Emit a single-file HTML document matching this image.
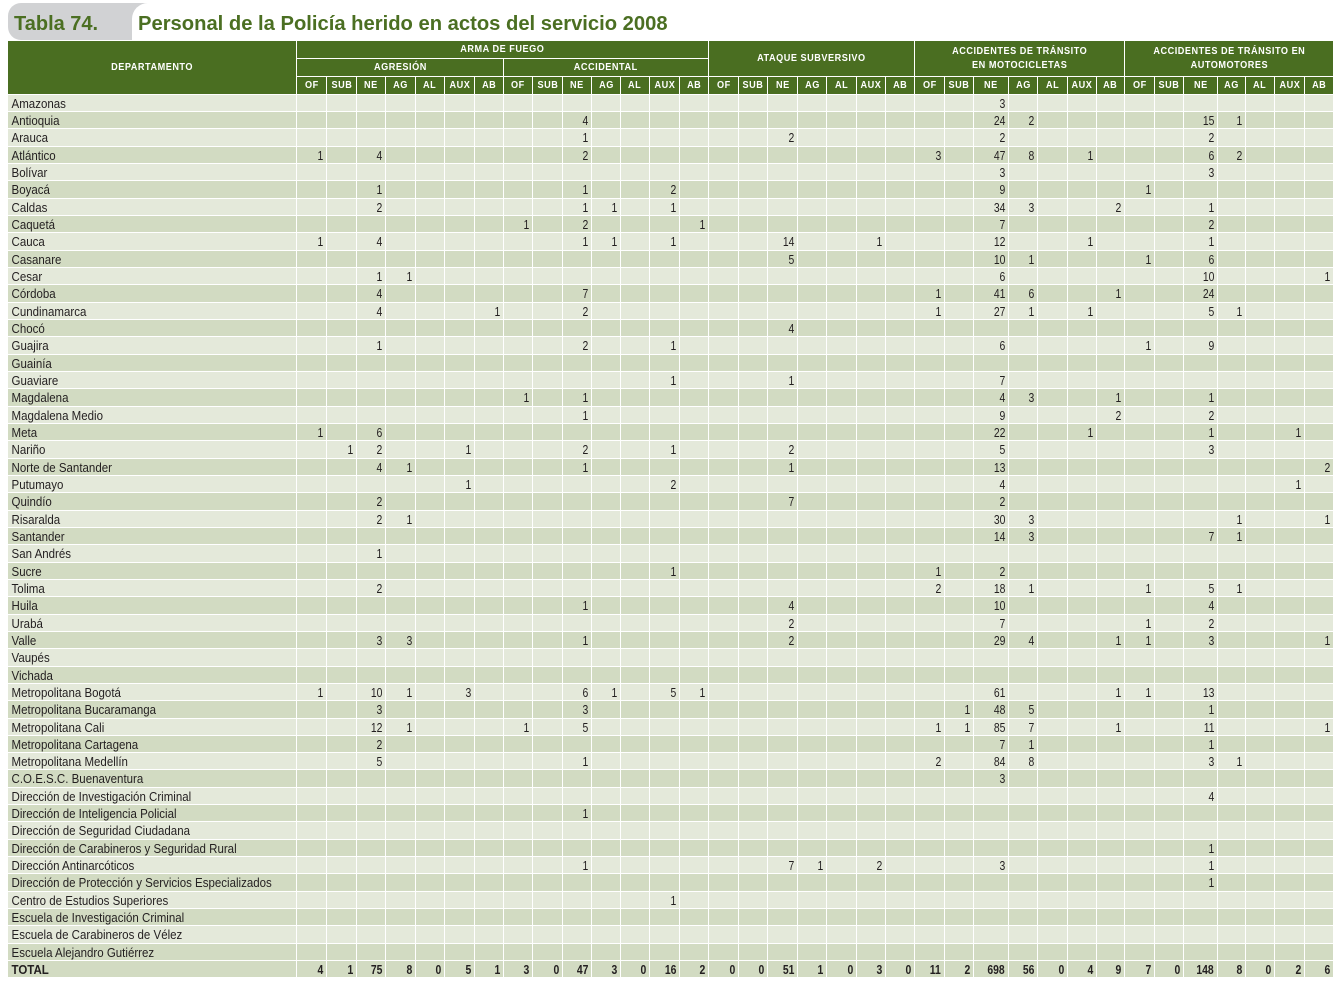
<!DOCTYPE html>
<html><head><meta charset="utf-8">
<style>
*{margin:0;padding:0;box-sizing:border-box}
body{width:1337px;height:982px;background:#fff;position:relative;overflow:hidden;font-family:"Liberation Sans",sans-serif}
.tab{position:absolute;left:8px;top:3px;width:150px;height:37px;background:#d1d2d4;border-radius:13px 0 0 13px}
.wh{position:absolute;left:132px;top:3px;width:620px;height:37px;background:#fff;border-top-left-radius:16px}
.t{position:absolute;top:13.7px;font:bold 20px/20px "Liberation Sans",sans-serif;color:#4b6f22;white-space:nowrap}
#tb{position:absolute;left:8px;top:41px;width:1325px}
.hd{position:relative;height:35.9px;background:#4a6e21;z-index:1}
.hd div{position:absolute;color:#fff;border-left:1px solid #fff;border-bottom:1px solid #fff;display:flex;align-items:center;justify-content:center;text-align:center;font:bold 10.5px/14.5px "Liberation Sans",sans-serif;letter-spacing:.6px}
.hd span{display:inline-block;transform:scaleX(.87);white-space:nowrap}
.r{display:grid;grid-template-columns:288px 30px 30px 29px 30px 29px 30px 29px 29px 30px 29px 29px 29px 30px 29px 30px 29px 30px 29px 30px 29px 29px 30px 29px 35px 29px 30px 29px 28px 30px 29px 34px 28px 29px 30px 29px;height:17.33px;border-bottom:1px solid #fff;background:#e4e9da;font-size:13px;line-height:17.6px;color:#231f20;overflow:hidden}
#rows .r:nth-child(even){background:#d2dbc2}
#rows .r.tot{background:#d2dbc2;font-weight:bold}
.r b{font-weight:inherit;padding-left:4px;white-space:nowrap;transform:scaleX(.885);transform-origin:0 0}
.r i{font-style:normal;border-left:1px solid #fff;text-align:right;padding-right:3px;white-space:nowrap}
.r u{text-decoration:none;display:inline-block;transform:scaleX(.8);transform-origin:100% 50%}
.r.h{background:#4a6e21;color:#fff;font-weight:bold;font-size:10.5px;letter-spacing:.6px;height:17.8px;line-height:16.8px}
.r.h i{text-align:center;padding:0}
.r.h u{transform:scaleX(.87);transform-origin:50% 50%}
</style></head><body>
<div class="tab"></div>
<div class="wh"></div>
<div class="t" style="left:14px">Tabla 74.</div>
<div class="t" style="left:138px;font-size:20.2px">Personal de la Policía herido en actos del servicio 2008</div>
<div id="tb">
<div class="hd">
<div style="left:0;top:0;width:288px;height:52.7px;border:0"><span>DEPARTAMENTO</span></div>
<div style="left:288px;top:0;width:412px;height:17.6px"><span>ARMA DE FUEGO</span></div>
<div style="left:288px;top:17.6px;width:207px;height:18.3px"><span>AGRESIÓN</span></div>
<div style="left:495px;top:17.6px;width:205px;height:18.3px"><span>ACCIDENTAL</span></div>
<div style="left:700px;top:0;width:206px;height:35.9px"><span>ATAQUE SUBVERSIVO</span></div>
<div style="left:906px;top:0;width:210px;height:35.9px"><span>ACCIDENTES DE TRÁNSITO<br>EN MOTOCICLETAS</span></div>
<div style="left:1116px;top:0;width:209px;height:35.9px"><span>ACCIDENTES DE TRÁNSITO EN<br>AUTOMOTORES</span></div>
</div>
<div class="r h"><b></b><i><u>OF</u></i><i><u>SUB</u></i><i><u>NE</u></i><i><u>AG</u></i><i><u>AL</u></i><i><u>AUX</u></i><i><u>AB</u></i><i><u>OF</u></i><i><u>SUB</u></i><i><u>NE</u></i><i><u>AG</u></i><i><u>AL</u></i><i><u>AUX</u></i><i><u>AB</u></i><i><u>OF</u></i><i><u>SUB</u></i><i><u>NE</u></i><i><u>AG</u></i><i><u>AL</u></i><i><u>AUX</u></i><i><u>AB</u></i><i><u>OF</u></i><i><u>SUB</u></i><i><u>NE</u></i><i><u>AG</u></i><i><u>AL</u></i><i><u>AUX</u></i><i><u>AB</u></i><i><u>OF</u></i><i><u>SUB</u></i><i><u>NE</u></i><i><u>AG</u></i><i><u>AL</u></i><i><u>AUX</u></i><i><u>AB</u></i></div>
<div id="rows">
<div class="r"><b>Amazonas</b><i></i><i></i><i></i><i></i><i></i><i></i><i></i><i></i><i></i><i></i><i></i><i></i><i></i><i></i><i></i><i></i><i></i><i></i><i></i><i></i><i></i><i></i><i></i><i><u>3</u></i><i></i><i></i><i></i><i></i><i></i><i></i><i></i><i></i><i></i><i></i><i></i></div>
<div class="r"><b>Antioquia</b><i></i><i></i><i></i><i></i><i></i><i></i><i></i><i></i><i></i><i><u>4</u></i><i></i><i></i><i></i><i></i><i></i><i></i><i></i><i></i><i></i><i></i><i></i><i></i><i></i><i><u>24</u></i><i><u>2</u></i><i></i><i></i><i></i><i></i><i></i><i><u>15</u></i><i><u>1</u></i><i></i><i></i><i></i></div>
<div class="r"><b>Arauca</b><i></i><i></i><i></i><i></i><i></i><i></i><i></i><i></i><i></i><i><u>1</u></i><i></i><i></i><i></i><i></i><i></i><i></i><i><u>2</u></i><i></i><i></i><i></i><i></i><i></i><i></i><i><u>2</u></i><i></i><i></i><i></i><i></i><i></i><i></i><i><u>2</u></i><i></i><i></i><i></i><i></i></div>
<div class="r"><b>Atlántico</b><i><u>1</u></i><i></i><i><u>4</u></i><i></i><i></i><i></i><i></i><i></i><i></i><i><u>2</u></i><i></i><i></i><i></i><i></i><i></i><i></i><i></i><i></i><i></i><i></i><i></i><i><u>3</u></i><i></i><i><u>47</u></i><i><u>8</u></i><i></i><i><u>1</u></i><i></i><i></i><i></i><i><u>6</u></i><i><u>2</u></i><i></i><i></i><i></i></div>
<div class="r"><b>Bolívar</b><i></i><i></i><i></i><i></i><i></i><i></i><i></i><i></i><i></i><i></i><i></i><i></i><i></i><i></i><i></i><i></i><i></i><i></i><i></i><i></i><i></i><i></i><i></i><i><u>3</u></i><i></i><i></i><i></i><i></i><i></i><i></i><i><u>3</u></i><i></i><i></i><i></i><i></i></div>
<div class="r"><b>Boyacá</b><i></i><i></i><i><u>1</u></i><i></i><i></i><i></i><i></i><i></i><i></i><i><u>1</u></i><i></i><i></i><i><u>2</u></i><i></i><i></i><i></i><i></i><i></i><i></i><i></i><i></i><i></i><i></i><i><u>9</u></i><i></i><i></i><i></i><i></i><i><u>1</u></i><i></i><i></i><i></i><i></i><i></i><i></i></div>
<div class="r"><b>Caldas</b><i></i><i></i><i><u>2</u></i><i></i><i></i><i></i><i></i><i></i><i></i><i><u>1</u></i><i><u>1</u></i><i></i><i><u>1</u></i><i></i><i></i><i></i><i></i><i></i><i></i><i></i><i></i><i></i><i></i><i><u>34</u></i><i><u>3</u></i><i></i><i></i><i><u>2</u></i><i></i><i></i><i><u>1</u></i><i></i><i></i><i></i><i></i></div>
<div class="r"><b>Caquetá</b><i></i><i></i><i></i><i></i><i></i><i></i><i></i><i><u>1</u></i><i></i><i><u>2</u></i><i></i><i></i><i></i><i><u>1</u></i><i></i><i></i><i></i><i></i><i></i><i></i><i></i><i></i><i></i><i><u>7</u></i><i></i><i></i><i></i><i></i><i></i><i></i><i><u>2</u></i><i></i><i></i><i></i><i></i></div>
<div class="r"><b>Cauca</b><i><u>1</u></i><i></i><i><u>4</u></i><i></i><i></i><i></i><i></i><i></i><i></i><i><u>1</u></i><i><u>1</u></i><i></i><i><u>1</u></i><i></i><i></i><i></i><i><u>14</u></i><i></i><i></i><i><u>1</u></i><i></i><i></i><i></i><i><u>12</u></i><i></i><i></i><i><u>1</u></i><i></i><i></i><i></i><i><u>1</u></i><i></i><i></i><i></i><i></i></div>
<div class="r"><b>Casanare</b><i></i><i></i><i></i><i></i><i></i><i></i><i></i><i></i><i></i><i></i><i></i><i></i><i></i><i></i><i></i><i></i><i><u>5</u></i><i></i><i></i><i></i><i></i><i></i><i></i><i><u>10</u></i><i><u>1</u></i><i></i><i></i><i></i><i><u>1</u></i><i></i><i><u>6</u></i><i></i><i></i><i></i><i></i></div>
<div class="r"><b>Cesar</b><i></i><i></i><i><u>1</u></i><i><u>1</u></i><i></i><i></i><i></i><i></i><i></i><i></i><i></i><i></i><i></i><i></i><i></i><i></i><i></i><i></i><i></i><i></i><i></i><i></i><i></i><i><u>6</u></i><i></i><i></i><i></i><i></i><i></i><i></i><i><u>10</u></i><i></i><i></i><i></i><i><u>1</u></i></div>
<div class="r"><b>Córdoba</b><i></i><i></i><i><u>4</u></i><i></i><i></i><i></i><i></i><i></i><i></i><i><u>7</u></i><i></i><i></i><i></i><i></i><i></i><i></i><i></i><i></i><i></i><i></i><i></i><i><u>1</u></i><i></i><i><u>41</u></i><i><u>6</u></i><i></i><i></i><i><u>1</u></i><i></i><i></i><i><u>24</u></i><i></i><i></i><i></i><i></i></div>
<div class="r"><b>Cundinamarca</b><i></i><i></i><i><u>4</u></i><i></i><i></i><i></i><i><u>1</u></i><i></i><i></i><i><u>2</u></i><i></i><i></i><i></i><i></i><i></i><i></i><i></i><i></i><i></i><i></i><i></i><i><u>1</u></i><i></i><i><u>27</u></i><i><u>1</u></i><i></i><i><u>1</u></i><i></i><i></i><i></i><i><u>5</u></i><i><u>1</u></i><i></i><i></i><i></i></div>
<div class="r"><b>Chocó</b><i></i><i></i><i></i><i></i><i></i><i></i><i></i><i></i><i></i><i></i><i></i><i></i><i></i><i></i><i></i><i></i><i><u>4</u></i><i></i><i></i><i></i><i></i><i></i><i></i><i></i><i></i><i></i><i></i><i></i><i></i><i></i><i></i><i></i><i></i><i></i><i></i></div>
<div class="r"><b>Guajira</b><i></i><i></i><i><u>1</u></i><i></i><i></i><i></i><i></i><i></i><i></i><i><u>2</u></i><i></i><i></i><i><u>1</u></i><i></i><i></i><i></i><i></i><i></i><i></i><i></i><i></i><i></i><i></i><i><u>6</u></i><i></i><i></i><i></i><i></i><i><u>1</u></i><i></i><i><u>9</u></i><i></i><i></i><i></i><i></i></div>
<div class="r"><b>Guainía</b><i></i><i></i><i></i><i></i><i></i><i></i><i></i><i></i><i></i><i></i><i></i><i></i><i></i><i></i><i></i><i></i><i></i><i></i><i></i><i></i><i></i><i></i><i></i><i></i><i></i><i></i><i></i><i></i><i></i><i></i><i></i><i></i><i></i><i></i><i></i></div>
<div class="r"><b>Guaviare</b><i></i><i></i><i></i><i></i><i></i><i></i><i></i><i></i><i></i><i></i><i></i><i></i><i><u>1</u></i><i></i><i></i><i></i><i><u>1</u></i><i></i><i></i><i></i><i></i><i></i><i></i><i><u>7</u></i><i></i><i></i><i></i><i></i><i></i><i></i><i></i><i></i><i></i><i></i><i></i></div>
<div class="r"><b>Magdalena</b><i></i><i></i><i></i><i></i><i></i><i></i><i></i><i><u>1</u></i><i></i><i><u>1</u></i><i></i><i></i><i></i><i></i><i></i><i></i><i></i><i></i><i></i><i></i><i></i><i></i><i></i><i><u>4</u></i><i><u>3</u></i><i></i><i></i><i><u>1</u></i><i></i><i></i><i><u>1</u></i><i></i><i></i><i></i><i></i></div>
<div class="r"><b>Magdalena Medio</b><i></i><i></i><i></i><i></i><i></i><i></i><i></i><i></i><i></i><i><u>1</u></i><i></i><i></i><i></i><i></i><i></i><i></i><i></i><i></i><i></i><i></i><i></i><i></i><i></i><i><u>9</u></i><i></i><i></i><i></i><i><u>2</u></i><i></i><i></i><i><u>2</u></i><i></i><i></i><i></i><i></i></div>
<div class="r"><b>Meta</b><i><u>1</u></i><i></i><i><u>6</u></i><i></i><i></i><i></i><i></i><i></i><i></i><i></i><i></i><i></i><i></i><i></i><i></i><i></i><i></i><i></i><i></i><i></i><i></i><i></i><i></i><i><u>22</u></i><i></i><i></i><i><u>1</u></i><i></i><i></i><i></i><i><u>1</u></i><i></i><i></i><i><u>1</u></i><i></i></div>
<div class="r"><b>Nariño</b><i></i><i><u>1</u></i><i><u>2</u></i><i></i><i></i><i><u>1</u></i><i></i><i></i><i></i><i><u>2</u></i><i></i><i></i><i><u>1</u></i><i></i><i></i><i></i><i><u>2</u></i><i></i><i></i><i></i><i></i><i></i><i></i><i><u>5</u></i><i></i><i></i><i></i><i></i><i></i><i></i><i><u>3</u></i><i></i><i></i><i></i><i></i></div>
<div class="r"><b>Norte de Santander</b><i></i><i></i><i><u>4</u></i><i><u>1</u></i><i></i><i></i><i></i><i></i><i></i><i><u>1</u></i><i></i><i></i><i></i><i></i><i></i><i></i><i><u>1</u></i><i></i><i></i><i></i><i></i><i></i><i></i><i><u>13</u></i><i></i><i></i><i></i><i></i><i></i><i></i><i></i><i></i><i></i><i></i><i><u>2</u></i></div>
<div class="r"><b>Putumayo</b><i></i><i></i><i></i><i></i><i></i><i><u>1</u></i><i></i><i></i><i></i><i></i><i></i><i></i><i><u>2</u></i><i></i><i></i><i></i><i></i><i></i><i></i><i></i><i></i><i></i><i></i><i><u>4</u></i><i></i><i></i><i></i><i></i><i></i><i></i><i></i><i></i><i></i><i><u>1</u></i><i></i></div>
<div class="r"><b>Quindío</b><i></i><i></i><i><u>2</u></i><i></i><i></i><i></i><i></i><i></i><i></i><i></i><i></i><i></i><i></i><i></i><i></i><i></i><i><u>7</u></i><i></i><i></i><i></i><i></i><i></i><i></i><i><u>2</u></i><i></i><i></i><i></i><i></i><i></i><i></i><i></i><i></i><i></i><i></i><i></i></div>
<div class="r"><b>Risaralda</b><i></i><i></i><i><u>2</u></i><i><u>1</u></i><i></i><i></i><i></i><i></i><i></i><i></i><i></i><i></i><i></i><i></i><i></i><i></i><i></i><i></i><i></i><i></i><i></i><i></i><i></i><i><u>30</u></i><i><u>3</u></i><i></i><i></i><i></i><i></i><i></i><i></i><i><u>1</u></i><i></i><i></i><i><u>1</u></i></div>
<div class="r"><b>Santander</b><i></i><i></i><i></i><i></i><i></i><i></i><i></i><i></i><i></i><i></i><i></i><i></i><i></i><i></i><i></i><i></i><i></i><i></i><i></i><i></i><i></i><i></i><i></i><i><u>14</u></i><i><u>3</u></i><i></i><i></i><i></i><i></i><i></i><i><u>7</u></i><i><u>1</u></i><i></i><i></i><i></i></div>
<div class="r"><b>San Andrés</b><i></i><i></i><i><u>1</u></i><i></i><i></i><i></i><i></i><i></i><i></i><i></i><i></i><i></i><i></i><i></i><i></i><i></i><i></i><i></i><i></i><i></i><i></i><i></i><i></i><i></i><i></i><i></i><i></i><i></i><i></i><i></i><i></i><i></i><i></i><i></i><i></i></div>
<div class="r"><b>Sucre</b><i></i><i></i><i></i><i></i><i></i><i></i><i></i><i></i><i></i><i></i><i></i><i></i><i><u>1</u></i><i></i><i></i><i></i><i></i><i></i><i></i><i></i><i></i><i><u>1</u></i><i></i><i><u>2</u></i><i></i><i></i><i></i><i></i><i></i><i></i><i></i><i></i><i></i><i></i><i></i></div>
<div class="r"><b>Tolima</b><i></i><i></i><i><u>2</u></i><i></i><i></i><i></i><i></i><i></i><i></i><i></i><i></i><i></i><i></i><i></i><i></i><i></i><i></i><i></i><i></i><i></i><i></i><i><u>2</u></i><i></i><i><u>18</u></i><i><u>1</u></i><i></i><i></i><i></i><i><u>1</u></i><i></i><i><u>5</u></i><i><u>1</u></i><i></i><i></i><i></i></div>
<div class="r"><b>Huila</b><i></i><i></i><i></i><i></i><i></i><i></i><i></i><i></i><i></i><i><u>1</u></i><i></i><i></i><i></i><i></i><i></i><i></i><i><u>4</u></i><i></i><i></i><i></i><i></i><i></i><i></i><i><u>10</u></i><i></i><i></i><i></i><i></i><i></i><i></i><i><u>4</u></i><i></i><i></i><i></i><i></i></div>
<div class="r"><b>Urabá</b><i></i><i></i><i></i><i></i><i></i><i></i><i></i><i></i><i></i><i></i><i></i><i></i><i></i><i></i><i></i><i></i><i><u>2</u></i><i></i><i></i><i></i><i></i><i></i><i></i><i><u>7</u></i><i></i><i></i><i></i><i></i><i><u>1</u></i><i></i><i><u>2</u></i><i></i><i></i><i></i><i></i></div>
<div class="r"><b>Valle</b><i></i><i></i><i><u>3</u></i><i><u>3</u></i><i></i><i></i><i></i><i></i><i></i><i><u>1</u></i><i></i><i></i><i></i><i></i><i></i><i></i><i><u>2</u></i><i></i><i></i><i></i><i></i><i></i><i></i><i><u>29</u></i><i><u>4</u></i><i></i><i></i><i><u>1</u></i><i><u>1</u></i><i></i><i><u>3</u></i><i></i><i></i><i></i><i><u>1</u></i></div>
<div class="r"><b>Vaupés</b><i></i><i></i><i></i><i></i><i></i><i></i><i></i><i></i><i></i><i></i><i></i><i></i><i></i><i></i><i></i><i></i><i></i><i></i><i></i><i></i><i></i><i></i><i></i><i></i><i></i><i></i><i></i><i></i><i></i><i></i><i></i><i></i><i></i><i></i><i></i></div>
<div class="r"><b>Vichada</b><i></i><i></i><i></i><i></i><i></i><i></i><i></i><i></i><i></i><i></i><i></i><i></i><i></i><i></i><i></i><i></i><i></i><i></i><i></i><i></i><i></i><i></i><i></i><i></i><i></i><i></i><i></i><i></i><i></i><i></i><i></i><i></i><i></i><i></i><i></i></div>
<div class="r"><b>Metropolitana Bogotá</b><i><u>1</u></i><i></i><i><u>10</u></i><i><u>1</u></i><i></i><i><u>3</u></i><i></i><i></i><i></i><i><u>6</u></i><i><u>1</u></i><i></i><i><u>5</u></i><i><u>1</u></i><i></i><i></i><i></i><i></i><i></i><i></i><i></i><i></i><i></i><i><u>61</u></i><i></i><i></i><i></i><i><u>1</u></i><i><u>1</u></i><i></i><i><u>13</u></i><i></i><i></i><i></i><i></i></div>
<div class="r"><b>Metropolitana Bucaramanga</b><i></i><i></i><i><u>3</u></i><i></i><i></i><i></i><i></i><i></i><i></i><i><u>3</u></i><i></i><i></i><i></i><i></i><i></i><i></i><i></i><i></i><i></i><i></i><i></i><i></i><i><u>1</u></i><i><u>48</u></i><i><u>5</u></i><i></i><i></i><i></i><i></i><i></i><i><u>1</u></i><i></i><i></i><i></i><i></i></div>
<div class="r"><b>Metropolitana Cali</b><i></i><i></i><i><u>12</u></i><i><u>1</u></i><i></i><i></i><i></i><i><u>1</u></i><i></i><i><u>5</u></i><i></i><i></i><i></i><i></i><i></i><i></i><i></i><i></i><i></i><i></i><i></i><i><u>1</u></i><i><u>1</u></i><i><u>85</u></i><i><u>7</u></i><i></i><i></i><i><u>1</u></i><i></i><i></i><i><u>11</u></i><i></i><i></i><i></i><i><u>1</u></i></div>
<div class="r"><b>Metropolitana Cartagena</b><i></i><i></i><i><u>2</u></i><i></i><i></i><i></i><i></i><i></i><i></i><i></i><i></i><i></i><i></i><i></i><i></i><i></i><i></i><i></i><i></i><i></i><i></i><i></i><i></i><i><u>7</u></i><i><u>1</u></i><i></i><i></i><i></i><i></i><i></i><i><u>1</u></i><i></i><i></i><i></i><i></i></div>
<div class="r"><b>Metropolitana Medellín</b><i></i><i></i><i><u>5</u></i><i></i><i></i><i></i><i></i><i></i><i></i><i><u>1</u></i><i></i><i></i><i></i><i></i><i></i><i></i><i></i><i></i><i></i><i></i><i></i><i><u>2</u></i><i></i><i><u>84</u></i><i><u>8</u></i><i></i><i></i><i></i><i></i><i></i><i><u>3</u></i><i><u>1</u></i><i></i><i></i><i></i></div>
<div class="r"><b>C.O.E.S.C. Buenaventura</b><i></i><i></i><i></i><i></i><i></i><i></i><i></i><i></i><i></i><i></i><i></i><i></i><i></i><i></i><i></i><i></i><i></i><i></i><i></i><i></i><i></i><i></i><i></i><i><u>3</u></i><i></i><i></i><i></i><i></i><i></i><i></i><i></i><i></i><i></i><i></i><i></i></div>
<div class="r"><b>Dirección de Investigación Criminal</b><i></i><i></i><i></i><i></i><i></i><i></i><i></i><i></i><i></i><i></i><i></i><i></i><i></i><i></i><i></i><i></i><i></i><i></i><i></i><i></i><i></i><i></i><i></i><i></i><i></i><i></i><i></i><i></i><i></i><i></i><i><u>4</u></i><i></i><i></i><i></i><i></i></div>
<div class="r"><b>Dirección de Inteligencia Policial</b><i></i><i></i><i></i><i></i><i></i><i></i><i></i><i></i><i></i><i><u>1</u></i><i></i><i></i><i></i><i></i><i></i><i></i><i></i><i></i><i></i><i></i><i></i><i></i><i></i><i></i><i></i><i></i><i></i><i></i><i></i><i></i><i></i><i></i><i></i><i></i><i></i></div>
<div class="r"><b>Dirección de Seguridad Ciudadana</b><i></i><i></i><i></i><i></i><i></i><i></i><i></i><i></i><i></i><i></i><i></i><i></i><i></i><i></i><i></i><i></i><i></i><i></i><i></i><i></i><i></i><i></i><i></i><i></i><i></i><i></i><i></i><i></i><i></i><i></i><i></i><i></i><i></i><i></i><i></i></div>
<div class="r"><b>Dirección de Carabineros y Seguridad Rural</b><i></i><i></i><i></i><i></i><i></i><i></i><i></i><i></i><i></i><i></i><i></i><i></i><i></i><i></i><i></i><i></i><i></i><i></i><i></i><i></i><i></i><i></i><i></i><i></i><i></i><i></i><i></i><i></i><i></i><i></i><i><u>1</u></i><i></i><i></i><i></i><i></i></div>
<div class="r"><b>Dirección Antinarcóticos</b><i></i><i></i><i></i><i></i><i></i><i></i><i></i><i></i><i></i><i><u>1</u></i><i></i><i></i><i></i><i></i><i></i><i></i><i><u>7</u></i><i><u>1</u></i><i></i><i><u>2</u></i><i></i><i></i><i></i><i><u>3</u></i><i></i><i></i><i></i><i></i><i></i><i></i><i><u>1</u></i><i></i><i></i><i></i><i></i></div>
<div class="r"><b>Dirección de Protección y Servicios Especializados</b><i></i><i></i><i></i><i></i><i></i><i></i><i></i><i></i><i></i><i></i><i></i><i></i><i></i><i></i><i></i><i></i><i></i><i></i><i></i><i></i><i></i><i></i><i></i><i></i><i></i><i></i><i></i><i></i><i></i><i></i><i><u>1</u></i><i></i><i></i><i></i><i></i></div>
<div class="r"><b>Centro de Estudios Superiores</b><i></i><i></i><i></i><i></i><i></i><i></i><i></i><i></i><i></i><i></i><i></i><i></i><i><u>1</u></i><i></i><i></i><i></i><i></i><i></i><i></i><i></i><i></i><i></i><i></i><i></i><i></i><i></i><i></i><i></i><i></i><i></i><i></i><i></i><i></i><i></i><i></i></div>
<div class="r"><b>Escuela de Investigación Criminal</b><i></i><i></i><i></i><i></i><i></i><i></i><i></i><i></i><i></i><i></i><i></i><i></i><i></i><i></i><i></i><i></i><i></i><i></i><i></i><i></i><i></i><i></i><i></i><i></i><i></i><i></i><i></i><i></i><i></i><i></i><i></i><i></i><i></i><i></i><i></i></div>
<div class="r"><b>Escuela de Carabineros de Vélez</b><i></i><i></i><i></i><i></i><i></i><i></i><i></i><i></i><i></i><i></i><i></i><i></i><i></i><i></i><i></i><i></i><i></i><i></i><i></i><i></i><i></i><i></i><i></i><i></i><i></i><i></i><i></i><i></i><i></i><i></i><i></i><i></i><i></i><i></i><i></i></div>
<div class="r"><b>Escuela Alejandro Gutiérrez</b><i></i><i></i><i></i><i></i><i></i><i></i><i></i><i></i><i></i><i></i><i></i><i></i><i></i><i></i><i></i><i></i><i></i><i></i><i></i><i></i><i></i><i></i><i></i><i></i><i></i><i></i><i></i><i></i><i></i><i></i><i></i><i></i><i></i><i></i><i></i></div>
<div class="r tot"><b>TOTAL</b><i><u>4</u></i><i><u>1</u></i><i><u>75</u></i><i><u>8</u></i><i><u>0</u></i><i><u>5</u></i><i><u>1</u></i><i><u>3</u></i><i><u>0</u></i><i><u>47</u></i><i><u>3</u></i><i><u>0</u></i><i><u>16</u></i><i><u>2</u></i><i><u>0</u></i><i><u>0</u></i><i><u>51</u></i><i><u>1</u></i><i><u>0</u></i><i><u>3</u></i><i><u>0</u></i><i><u>11</u></i><i><u>2</u></i><i><u>698</u></i><i><u>56</u></i><i><u>0</u></i><i><u>4</u></i><i><u>9</u></i><i><u>7</u></i><i><u>0</u></i><i><u>148</u></i><i><u>8</u></i><i><u>0</u></i><i><u>2</u></i><i><u>6</u></i></div>
</div>
</div>
</body></html>
